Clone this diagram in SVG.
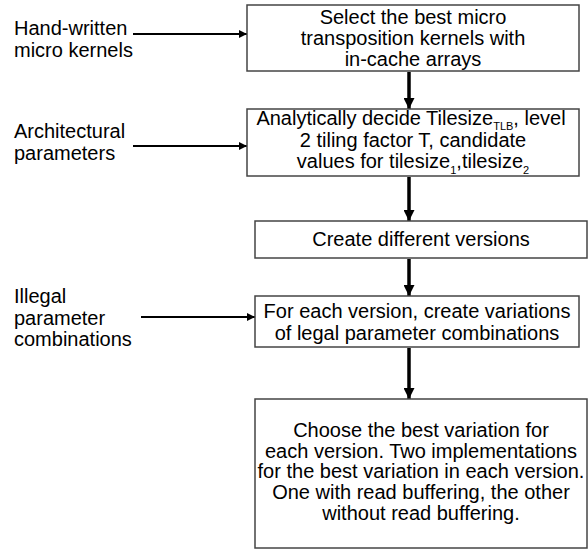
<svg xmlns="http://www.w3.org/2000/svg" width="588" height="552" viewBox="0 0 588 552">
<style>
text{font-family:"Liberation Sans",Arial,sans-serif;font-size:20px;fill:#000}
.c{text-anchor:middle}
.box{fill:#fff;stroke:#444;stroke-width:1.5}
.v{stroke:#000;stroke-width:3.5;fill:none}
.h{stroke:#000;stroke-width:2;fill:none}
.sub{font-size:11px}
</style>
<defs>
<marker id="ah" viewBox="0 0 10 10" refX="10" refY="5" markerWidth="8" markerHeight="8" markerUnits="userSpaceOnUse" orient="auto">
<path d="M0,0 L10,5 L0,10 z" fill="#000"/>
</marker>
<marker id="av" viewBox="0 0 10 10" refX="10" refY="5" markerWidth="11" markerHeight="11" markerUnits="userSpaceOnUse" orient="auto">
<path d="M0,0 L10,5 L0,10 z" fill="#000"/>
</marker>
</defs>
<rect width="588" height="552" fill="#fff"/>
<g id="connectors">
<line class="h" x1="133" y1="34" x2="247" y2="34" marker-end="url(#ah)"/>
<line class="h" x1="133" y1="146" x2="247" y2="146" marker-end="url(#ah)"/>
<line class="h" x1="141" y1="317" x2="255" y2="317" marker-end="url(#ah)"/>
<line class="v" x1="409" y1="72" x2="409" y2="109" marker-end="url(#av)"/>
<line class="v" x1="409" y1="177" x2="409" y2="221" marker-end="url(#av)"/>
<line class="v" x1="409" y1="259" x2="409" y2="296" marker-end="url(#av)"/>
<line class="v" x1="409" y1="348" x2="409" y2="399" marker-end="url(#av)"/>
</g>
<g id="in1">
<text x="14" y="35">Hand-written</text>
<text x="14" y="57">micro kernels</text>
</g>
<g id="in2">
<text x="14" y="138">Architectural</text>
<text x="14" y="160">parameters</text>
</g>
<g id="in3">
<text x="14" y="303">Illegal</text>
<text x="14" y="325">parameter</text>
<text x="14" y="346">combinations</text>
</g>
<g id="n1">
<rect class="box" x="247" y="5" width="332" height="66"/>
<text class="c" x="413" y="24">Select the best micro</text>
<text class="c" x="413" y="45">transposition kernels with</text>
<text class="c" x="413" y="66">in-cache arrays</text>
</g>
<g id="n2">
<rect class="box" x="247" y="109" width="332" height="67"/>
<text class="c" x="411" y="125">Analytically decide Tilesize<tspan class="sub" dy="5">TLB</tspan><tspan dy="-5">, level</tspan></text>
<text class="c" x="413" y="147">2 tiling factor T, candidate</text>
<text class="c" x="413" y="168">values for tilesize<tspan class="sub" dy="6">1</tspan><tspan dy="-6">,tilesize</tspan><tspan class="sub" dy="6">2</tspan></text>
</g>
<g id="n3">
<rect class="box" x="255" y="221" width="332" height="37"/>
<text class="c" x="421" y="246">Create different versions</text>
</g>
<g id="n4">
<rect class="box" x="255" y="296" width="324" height="51"/>
<text class="c" x="417" y="318">For each version, create variations</text>
<text class="c" x="417" y="340">of legal parameter combinations</text>
</g>
<g id="n5">
<rect class="box" x="255" y="399" width="332" height="149"/>
<text class="c" x="421" y="437">Choose the best variation for</text>
<text class="c" x="421" y="458">each version. Two implementations</text>
<text class="c" x="421" y="478">for the best variation in each version.</text>
<text class="c" x="421" y="499">One with read buffering, the other</text>
<text class="c" x="421" y="520">without read buffering.</text>
</g>
</svg>
